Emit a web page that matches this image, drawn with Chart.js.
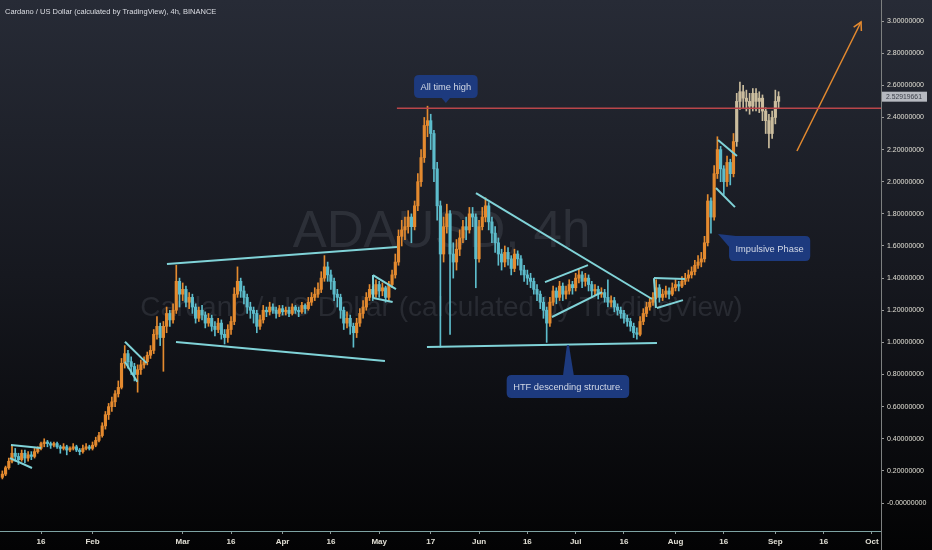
<!DOCTYPE html>
<html>
<head>
<meta charset="utf-8">
<script src="https://cdn.jsdelivr.net/npm/chart.js@4.4.1/dist/chart.umd.min.js"></script>
<style>
  html, body { margin:0; padding:0; background:#050506; overflow:hidden; }
  #wrap { width:932px; height:550px; }
</style>
</head>
<body>
<div id="wrap"><canvas id="c" width="932" height="550"></canvas></div>
<script>
// day numbers count from Jan 1 = 0, one candle per day
const firstDay = 3;
const opens = [
  0.16,0.18,0.22,0.26,0.31,0.29,0.27,0.31,0.28,0.30,
  0.29,0.32,0.34,0.37,0.38,0.37,0.36,0.37,0.35,0.34,
  0.35,0.33,0.34,0.35,0.33,0.32,0.34,0.35,0.34,0.36,
  0.39,0.42,0.48,0.55,0.60,0.63,0.68,0.72,0.87,0.93,
  0.88,0.85,0.80,0.83,0.86,0.88,0.92,0.95,1.05,1.10,
  1.03,1.10,1.18,1.14,1.20,1.38,1.30,1.33,1.25,1.28,
  1.22,1.15,1.20,1.17,1.12,1.15,1.10,1.08,1.12,1.05,
  1.03,1.08,1.13,1.30,1.38,1.32,1.28,1.22,1.20,1.18,
  1.10,1.14,1.20,1.19,1.22,1.20,1.18,1.21,1.19,1.20,
  1.18,1.22,1.20,1.19,1.23,1.21,1.25,1.28,1.30,1.33,
  1.40,1.47,1.42,1.38,1.30,1.28,1.20,1.12,1.15,1.10,
  1.06,1.12,1.18,1.22,1.28,1.33,1.30,1.36,1.32,1.34,
  1.28,1.36,1.42,1.50,1.66,1.70,1.72,1.78,1.72,1.85,
  2.00,2.15,2.35,2.38,2.30,2.08,1.85,1.55,1.72,1.80,
  1.55,1.50,1.58,1.65,1.72,1.70,1.80,1.78,1.52,1.72,
  1.78,1.85,1.75,1.68,1.62,1.55,1.50,1.56,1.52,1.46,
  1.55,1.52,1.45,1.42,1.40,1.38,1.33,1.30,1.25,1.20,
  1.12,1.25,1.32,1.28,1.35,1.30,1.32,1.36,1.34,1.40,
  1.42,1.38,1.40,1.36,1.32,1.33,1.30,1.31,1.28,1.25,
  1.26,1.22,1.20,1.18,1.15,1.13,1.10,1.06,1.05,1.13,
  1.18,1.22,1.25,1.28,1.34,1.28,1.30,1.32,1.30,1.34,
  1.36,1.35,1.38,1.40,1.42,1.44,1.48,1.50,1.52,1.62,
  1.88,1.78,2.05,2.20,2.08,2.00,2.12,2.05,2.25,2.50,
  2.56,2.52,2.50,2.47,2.55,2.50,2.52,2.44,2.38,2.30,
  2.40,2.50
];
const highs = [
  0.20,0.23,0.28,0.36,0.34,0.31,0.33,0.33,0.32,0.32,
  0.34,0.35,0.38,0.40,0.39,0.38,0.38,0.38,0.36,0.37,
  0.36,0.35,0.37,0.36,0.34,0.36,0.37,0.36,0.38,0.41,
  0.44,0.50,0.57,0.62,0.66,0.70,0.76,0.90,0.98,0.95,
  0.91,0.87,0.86,0.89,0.91,0.94,0.98,1.08,1.16,1.12,
  1.13,1.22,1.20,1.24,1.48,1.40,1.37,1.35,1.31,1.30,
  1.24,1.22,1.23,1.19,1.18,1.17,1.13,1.15,1.14,1.08,
  1.11,1.16,1.34,1.47,1.40,1.35,1.30,1.25,1.22,1.20,
  1.17,1.23,1.22,1.25,1.24,1.22,1.23,1.23,1.22,1.22,
  1.24,1.23,1.22,1.25,1.24,1.28,1.31,1.34,1.37,1.44,
  1.54,1.50,1.45,1.40,1.33,1.30,1.22,1.19,1.17,1.12,
  1.15,1.21,1.26,1.31,1.36,1.35,1.39,1.38,1.37,1.35,
  1.38,1.45,1.55,1.70,1.76,1.78,1.82,1.80,1.88,2.05,
  2.20,2.40,2.47,2.42,2.32,2.12,1.88,1.78,1.86,1.82,
  1.62,1.64,1.70,1.76,1.78,1.84,1.84,1.80,1.76,1.84,
  1.90,1.87,1.78,1.72,1.65,1.58,1.60,1.59,1.54,1.58,
  1.57,1.54,1.48,1.45,1.43,1.40,1.36,1.32,1.28,1.22,
  1.28,1.35,1.34,1.38,1.37,1.35,1.39,1.38,1.43,1.46,
  1.44,1.43,1.42,1.38,1.36,1.35,1.34,1.33,1.39,1.29,
  1.28,1.24,1.22,1.20,1.17,1.15,1.12,1.09,1.16,1.21,
  1.25,1.28,1.31,1.39,1.36,1.33,1.35,1.34,1.37,1.39,
  1.38,1.41,1.43,1.45,1.47,1.51,1.54,1.56,1.66,1.92,
  1.90,2.10,2.28,2.22,2.10,2.16,2.14,2.30,2.55,2.62,
  2.60,2.57,2.55,2.58,2.58,2.56,2.54,2.46,2.42,2.44,
  2.57,2.56
];
const lows = [
  0.15,0.17,0.21,0.25,0.26,0.24,0.26,0.25,0.26,0.27,
  0.28,0.31,0.33,0.35,0.35,0.34,0.35,0.34,0.31,0.33,
  0.30,0.32,0.33,0.32,0.30,0.31,0.33,0.33,0.33,0.35,
  0.38,0.41,0.46,0.52,0.57,0.60,0.66,0.71,0.84,0.84,
  0.80,0.76,0.69,0.80,0.84,0.86,0.90,0.93,1.02,0.98,
  0.82,1.06,1.10,1.12,1.18,1.22,1.26,1.22,1.21,1.18,
  1.12,1.13,1.14,1.09,1.10,1.07,1.04,1.06,1.02,0.99,
  1.00,1.05,1.11,1.28,1.28,1.24,1.18,1.15,1.12,1.06,
  1.08,1.12,1.16,1.17,1.18,1.15,1.16,1.17,1.17,1.16,
  1.17,1.18,1.16,1.18,1.18,1.20,1.23,1.26,1.28,1.31,
  1.38,1.38,1.33,1.26,1.22,1.15,1.08,1.09,1.05,0.97,
  1.03,1.10,1.15,1.20,1.26,1.26,1.28,1.28,1.29,1.25,
  1.26,1.34,1.40,1.48,1.60,1.64,1.68,1.62,1.70,1.82,
  1.97,2.12,2.28,2.20,2.00,1.76,0.97,1.50,1.68,1.05,
  1.40,1.45,1.54,1.62,1.64,1.68,1.72,1.34,1.50,1.70,
  1.75,1.70,1.62,1.56,1.48,1.45,1.47,1.48,1.42,1.44,
  1.48,1.42,1.38,1.36,1.34,1.30,1.26,1.21,1.15,1.00,
  1.10,1.23,1.24,1.26,1.26,1.27,1.30,1.30,1.32,1.37,
  1.34,1.35,1.32,1.28,1.29,1.27,1.28,1.25,1.22,1.22,
  1.19,1.17,1.15,1.12,1.10,1.07,1.03,1.02,1.04,1.11,
  1.16,1.20,1.23,1.27,1.25,1.26,1.28,1.27,1.29,1.32,
  1.32,1.34,1.36,1.38,1.40,1.42,1.46,1.47,1.50,1.60,
  1.68,1.76,2.02,2.00,1.92,1.97,1.98,2.03,2.22,2.45,
  2.46,2.44,2.42,2.44,2.44,2.43,2.38,2.30,2.21,2.27,
  2.36,2.46
];
const closes = [
  0.18,0.22,0.26,0.31,0.29,0.27,0.31,0.28,0.30,0.29,
  0.32,0.34,0.37,0.38,0.37,0.36,0.37,0.35,0.34,0.35,
  0.33,0.34,0.35,0.33,0.32,0.34,0.35,0.34,0.36,0.39,
  0.42,0.48,0.55,0.60,0.63,0.68,0.72,0.87,0.93,0.88,
  0.85,0.80,0.83,0.86,0.88,0.92,0.95,1.05,1.10,1.03,
  1.10,1.18,1.14,1.20,1.38,1.30,1.33,1.25,1.28,1.22,
  1.15,1.20,1.17,1.12,1.15,1.10,1.08,1.12,1.05,1.03,
  1.08,1.13,1.30,1.38,1.32,1.28,1.22,1.20,1.18,1.10,
  1.14,1.20,1.19,1.22,1.20,1.18,1.21,1.19,1.20,1.18,
  1.22,1.20,1.19,1.23,1.21,1.25,1.28,1.30,1.33,1.40,
  1.47,1.42,1.38,1.30,1.28,1.20,1.12,1.15,1.10,1.06,
  1.12,1.18,1.22,1.28,1.33,1.30,1.36,1.32,1.34,1.28,
  1.36,1.42,1.50,1.66,1.70,1.72,1.78,1.72,1.85,2.00,
  2.15,2.35,2.38,2.30,2.08,1.85,1.55,1.72,1.80,1.55,
  1.50,1.58,1.65,1.72,1.70,1.80,1.78,1.52,1.72,1.78,
  1.85,1.75,1.68,1.62,1.55,1.50,1.56,1.52,1.46,1.55,
  1.52,1.45,1.42,1.40,1.38,1.33,1.30,1.25,1.20,1.12,
  1.25,1.32,1.28,1.35,1.30,1.32,1.36,1.34,1.40,1.42,
  1.38,1.40,1.36,1.32,1.33,1.30,1.31,1.28,1.25,1.26,
  1.22,1.20,1.18,1.15,1.13,1.10,1.06,1.05,1.13,1.18,
  1.22,1.25,1.28,1.34,1.28,1.30,1.32,1.30,1.34,1.36,
  1.35,1.38,1.40,1.42,1.44,1.48,1.50,1.52,1.62,1.88,
  1.78,2.05,2.20,2.08,2.00,2.12,2.05,2.25,2.50,2.56,
  2.52,2.50,2.47,2.55,2.50,2.52,2.44,2.38,2.30,2.40,
  2.50,2.53
];
const beigeFrom = 231;       // last stretch drawn in beige
const lastPrice = 2.52919661;

const tickDays   = [15,31,59,74,90,105,120,136,151,166,181,196,212,227,243,258,273];
const tickLabels = ['16','Feb','Mar','16','Apr','16','May','17','Jun','16','Jul','16','Aug','16','Sep','16','Oct'];
const priceTicks = [0,0.2,0.4,0.6,0.8,1.0,1.2,1.4,1.6,1.8,2.0,2.2,2.4,2.6,2.8,3.0];

// drawings: [day1, price1, day2, price2]
const trendLines = [
  [5.68,0.361,15.0,0.342],[5.37,0.280,12.2,0.218],
  [41.07,1.004,47.81,0.871],[41.07,0.879,44.89,0.755],
  [54.11,1.488,125.52,1.593],[56.91,1.002,121.79,0.884],
  [118.07,1.419,125.21,1.332],[118.16,1.276,124.18,1.251],[118.07,1.419,118.16,1.276],
  [134.83,0.971,206.24,0.996],
  [150.05,1.929,204.69,1.270],
  [171.47,1.375,184.82,1.481],[173.64,1.158,189.16,1.313],
  [205.31,1.400,214.93,1.394],[206.24,1.214,214.31,1.263],[205.31,1.400,205.93,1.214],
  [225.18,2.259,231.08,2.160],[224.56,1.961,230.46,1.842]
];
const athLine = [125.5,2.458,276,2.458];
const arrowLine = [249.7,2.191,269.6,2.994];
const callouts = [
  { text:'All time high', day:140.7, price:2.49, kind:'above' },
  { text:'HTF descending structure.', day:178.6, price:0.983, kind:'below' },
  { text:'Impulsive Phase', day:225.2, price:1.674, kind:'right' }
];

const FONT = '"Liberation Sans", Arial, sans-serif';
const UP = '#e48a2f', DOWN = '#5dbccb', BEIGE = '#cbbd9e';

function candleColor(c){
  const i = c.dataIndex;
  if (firstDay + i >= beigeFrom) return BEIGE;
  return closes[i] >= opens[i] ? UP : DOWN;
}
function seg(p, color, width){
  return { type:'line', data:[{x:p[0],y:p[1]},{x:p[2],y:p[3]}], borderColor:color, borderWidth:width,
    pointRadius:0, fill:false, order:0, tension:0 };
}

const wickData = lows.map((l,i)=>({ x:firstDay+i, y:[l, highs[i]] }));
const bodyData = opens.map((o,i)=>({ x:firstDay+i, y:[o, closes[i]] }));

const bgPlugin = {
  id:'bg',
  beforeDraw(chart){
    const {ctx, width, height, chartArea:a} = chart;
    ctx.save();
    const g = ctx.createLinearGradient(0,0,0,height);
    g.addColorStop(0,'#272b36'); g.addColorStop(0.5,'#16181f'); g.addColorStop(1,'#030304');
    ctx.fillStyle = g; ctx.fillRect(0,0,width,height);
    const cx = (a.left + a.right)/2 + 1;
    ctx.fillStyle = 'rgba(140,146,162,0.17)';
    ctx.textAlign = 'center'; ctx.textBaseline = 'alphabetic';
    ctx.font = '51px ' + FONT;
    ctx.fillText('ADAUSD, 4h', cx, 247);
    ctx.font = '28px ' + FONT;
    ctx.fillText('Cardano / US Dollar (calculated by TradingView)', cx, 316);
    ctx.textAlign = 'left'; ctx.textBaseline = 'middle';
    ctx.fillStyle = '#dcdee4'; ctx.font = '7.5px ' + FONT;
    ctx.fillText('Cardano / US Dollar (calculated by TradingView), 4h, BINANCE', 5, 12);
    ctx.restore();
  }
};

function rounded(ctx, x, y, w, h, r){
  ctx.beginPath();
  ctx.moveTo(x+r,y); ctx.lineTo(x+w-r,y); ctx.quadraticCurveTo(x+w,y,x+w,y+r);
  ctx.lineTo(x+w,y+h-r); ctx.quadraticCurveTo(x+w,y+h,x+w-r,y+h);
  ctx.lineTo(x+r,y+h); ctx.quadraticCurveTo(x,y+h,x,y+h-r);
  ctx.lineTo(x,y+r); ctx.quadraticCurveTo(x,y,x+r,y); ctx.closePath();
}

const overlayPlugin = {
  id:'overlay',
  afterDraw(chart){
    const {ctx, scales:{x, y}, chartArea:a} = chart;
    ctx.save();
    // arrow head
    const x1 = x.getPixelForValue(arrowLine[0]), y1 = y.getPixelForValue(arrowLine[1]);
    const x2 = x.getPixelForValue(arrowLine[2]), y2 = y.getPixelForValue(arrowLine[3]);
    const ang = Math.atan2(y2-y1, x2-x1);
    ctx.strokeStyle = UP; ctx.lineWidth = 1.5;
    ctx.beginPath();
    ctx.moveTo(x2 - 9*Math.cos(ang-0.5), y2 - 9*Math.sin(ang-0.5));
    ctx.lineTo(x2, y2);
    ctx.lineTo(x2 - 9*Math.cos(ang+0.5), y2 - 9*Math.sin(ang+0.5));
    ctx.stroke();

    // callouts
    ctx.font = '9.3px ' + FONT;
    callouts.forEach(c=>{
      const tx = x.getPixelForValue(c.day), ty = y.getPixelForValue(c.price);
      const w = ctx.measureText(c.text).width + 13;
      let bx, by, h = 23;
      ctx.fillStyle = '#1d3a7e';
      ctx.beginPath();
      if (c.kind === 'above'){
        bx = tx - w/2; by = ty - 5 - h;
        ctx.moveTo(tx-5, by+h-1); ctx.lineTo(tx, ty); ctx.lineTo(tx+5, by+h-1);
      } else if (c.kind === 'below'){
        bx = tx - w/2; by = ty + 30;
        ctx.moveTo(tx-5, by+1); ctx.lineTo(tx-1, ty); ctx.lineTo(tx+1, ty); ctx.lineTo(tx+6, by+1);
      } else {
        h = 25; bx = tx + 11; by = ty + 2;
        ctx.moveTo(bx+16, by+1); ctx.lineTo(tx, ty); ctx.lineTo(bx+1, by+12);
      }
      ctx.closePath(); ctx.fill();
      rounded(ctx, bx, by, w, h, 5); ctx.fill();
      ctx.fillStyle = '#d3d9e6'; ctx.textAlign = 'center'; ctx.textBaseline = 'middle';
      ctx.fillText(c.text, bx + w/2, by + h/2 + 0.5);
    });

    // axis separator into the time scale strip
    ctx.strokeStyle = '#7d8080'; ctx.lineWidth = 1;
    ctx.beginPath(); ctx.moveTo(a.right+0.5, a.bottom); ctx.lineTo(a.right+0.5, chart.height); ctx.stroke();

    // last price label
    const py = y.getPixelForValue(lastPrice);
    ctx.fillStyle = '#b6b9c0'; ctx.fillRect(a.right+1, py-5, 45, 10);
    ctx.fillStyle = '#3b3f49'; ctx.font = '6.8px ' + FONT; ctx.textAlign = 'left'; ctx.textBaseline = 'middle';
    ctx.fillText(lastPrice.toFixed(8), a.right+5, py+0.5);
    ctx.restore();
  }
};

new Chart(document.getElementById('c'), {
  type:'bar',
  data:{
    datasets:[
      ...trendLines.map(p=>seg(p, '#80d3d8', 2)),
      seg(athLine, '#b9464a', 1.5),
      seg(arrowLine, UP, 1.5),
      { type:'bar', data:wickData, backgroundColor:candleColor, barThickness:1, grouped:false, order:11, borderWidth:0 },
      { type:'bar', data:bodyData, backgroundColor:candleColor, barThickness:2.5, grouped:false, order:10, borderWidth:0, minBarLength:1 }
    ]
  },
  options:{
    responsive:false, animation:false, devicePixelRatio:1,
    layout:{ padding:0 },
    plugins:{ legend:{display:false}, tooltip:{enabled:false} },
    events:[],
    scales:{
      x:{
        type:'linear', min:2.27, max:275.8, offset:false,
        afterBuildTicks: ax => { ax.ticks = tickDays.map(v=>({value:v})); },
        afterFit: ax => { ax.height = 19; ax.paddingLeft = 0; ax.paddingRight = 0; },
        ticks:{ autoSkip:false, maxRotation:0, padding:3, color:'#e0ded4', font:{family:FONT, size:8, weight:'bold'},
          callback: v => { const k = tickDays.indexOf(v); return k < 0 ? '' : tickLabels[k]; } },
        grid:{ offset:false, drawOnChartArea:false, drawTicks:true, tickLength:3, color:'#8f9898' },
        border:{ display:true, color:'#7ea3a3', width:1 }
      },
      y:{
        type:'linear', position:'right', min:-0.174, max:3.131,
        afterBuildTicks: ax => { ax.ticks = priceTicks.map(v=>({value:v})); },
        afterFit: ax => { ax.width = 51; ax.paddingTop = 0; ax.paddingBottom = 0; },
        ticks:{ color:'#e0ded4', padding:3, font:{family:FONT, size:7},
          callback: v => v === 0 ? '-0.00000000' : v.toFixed(8) },
        grid:{ drawOnChartArea:false, drawTicks:true, tickLength:3, color:'#9a9a9a' },
        border:{ display:true, color:'#7d8080', width:1 }
      }
    }
  },
  plugins:[bgPlugin, overlayPlugin]
});
</script>
</body>
</html>
